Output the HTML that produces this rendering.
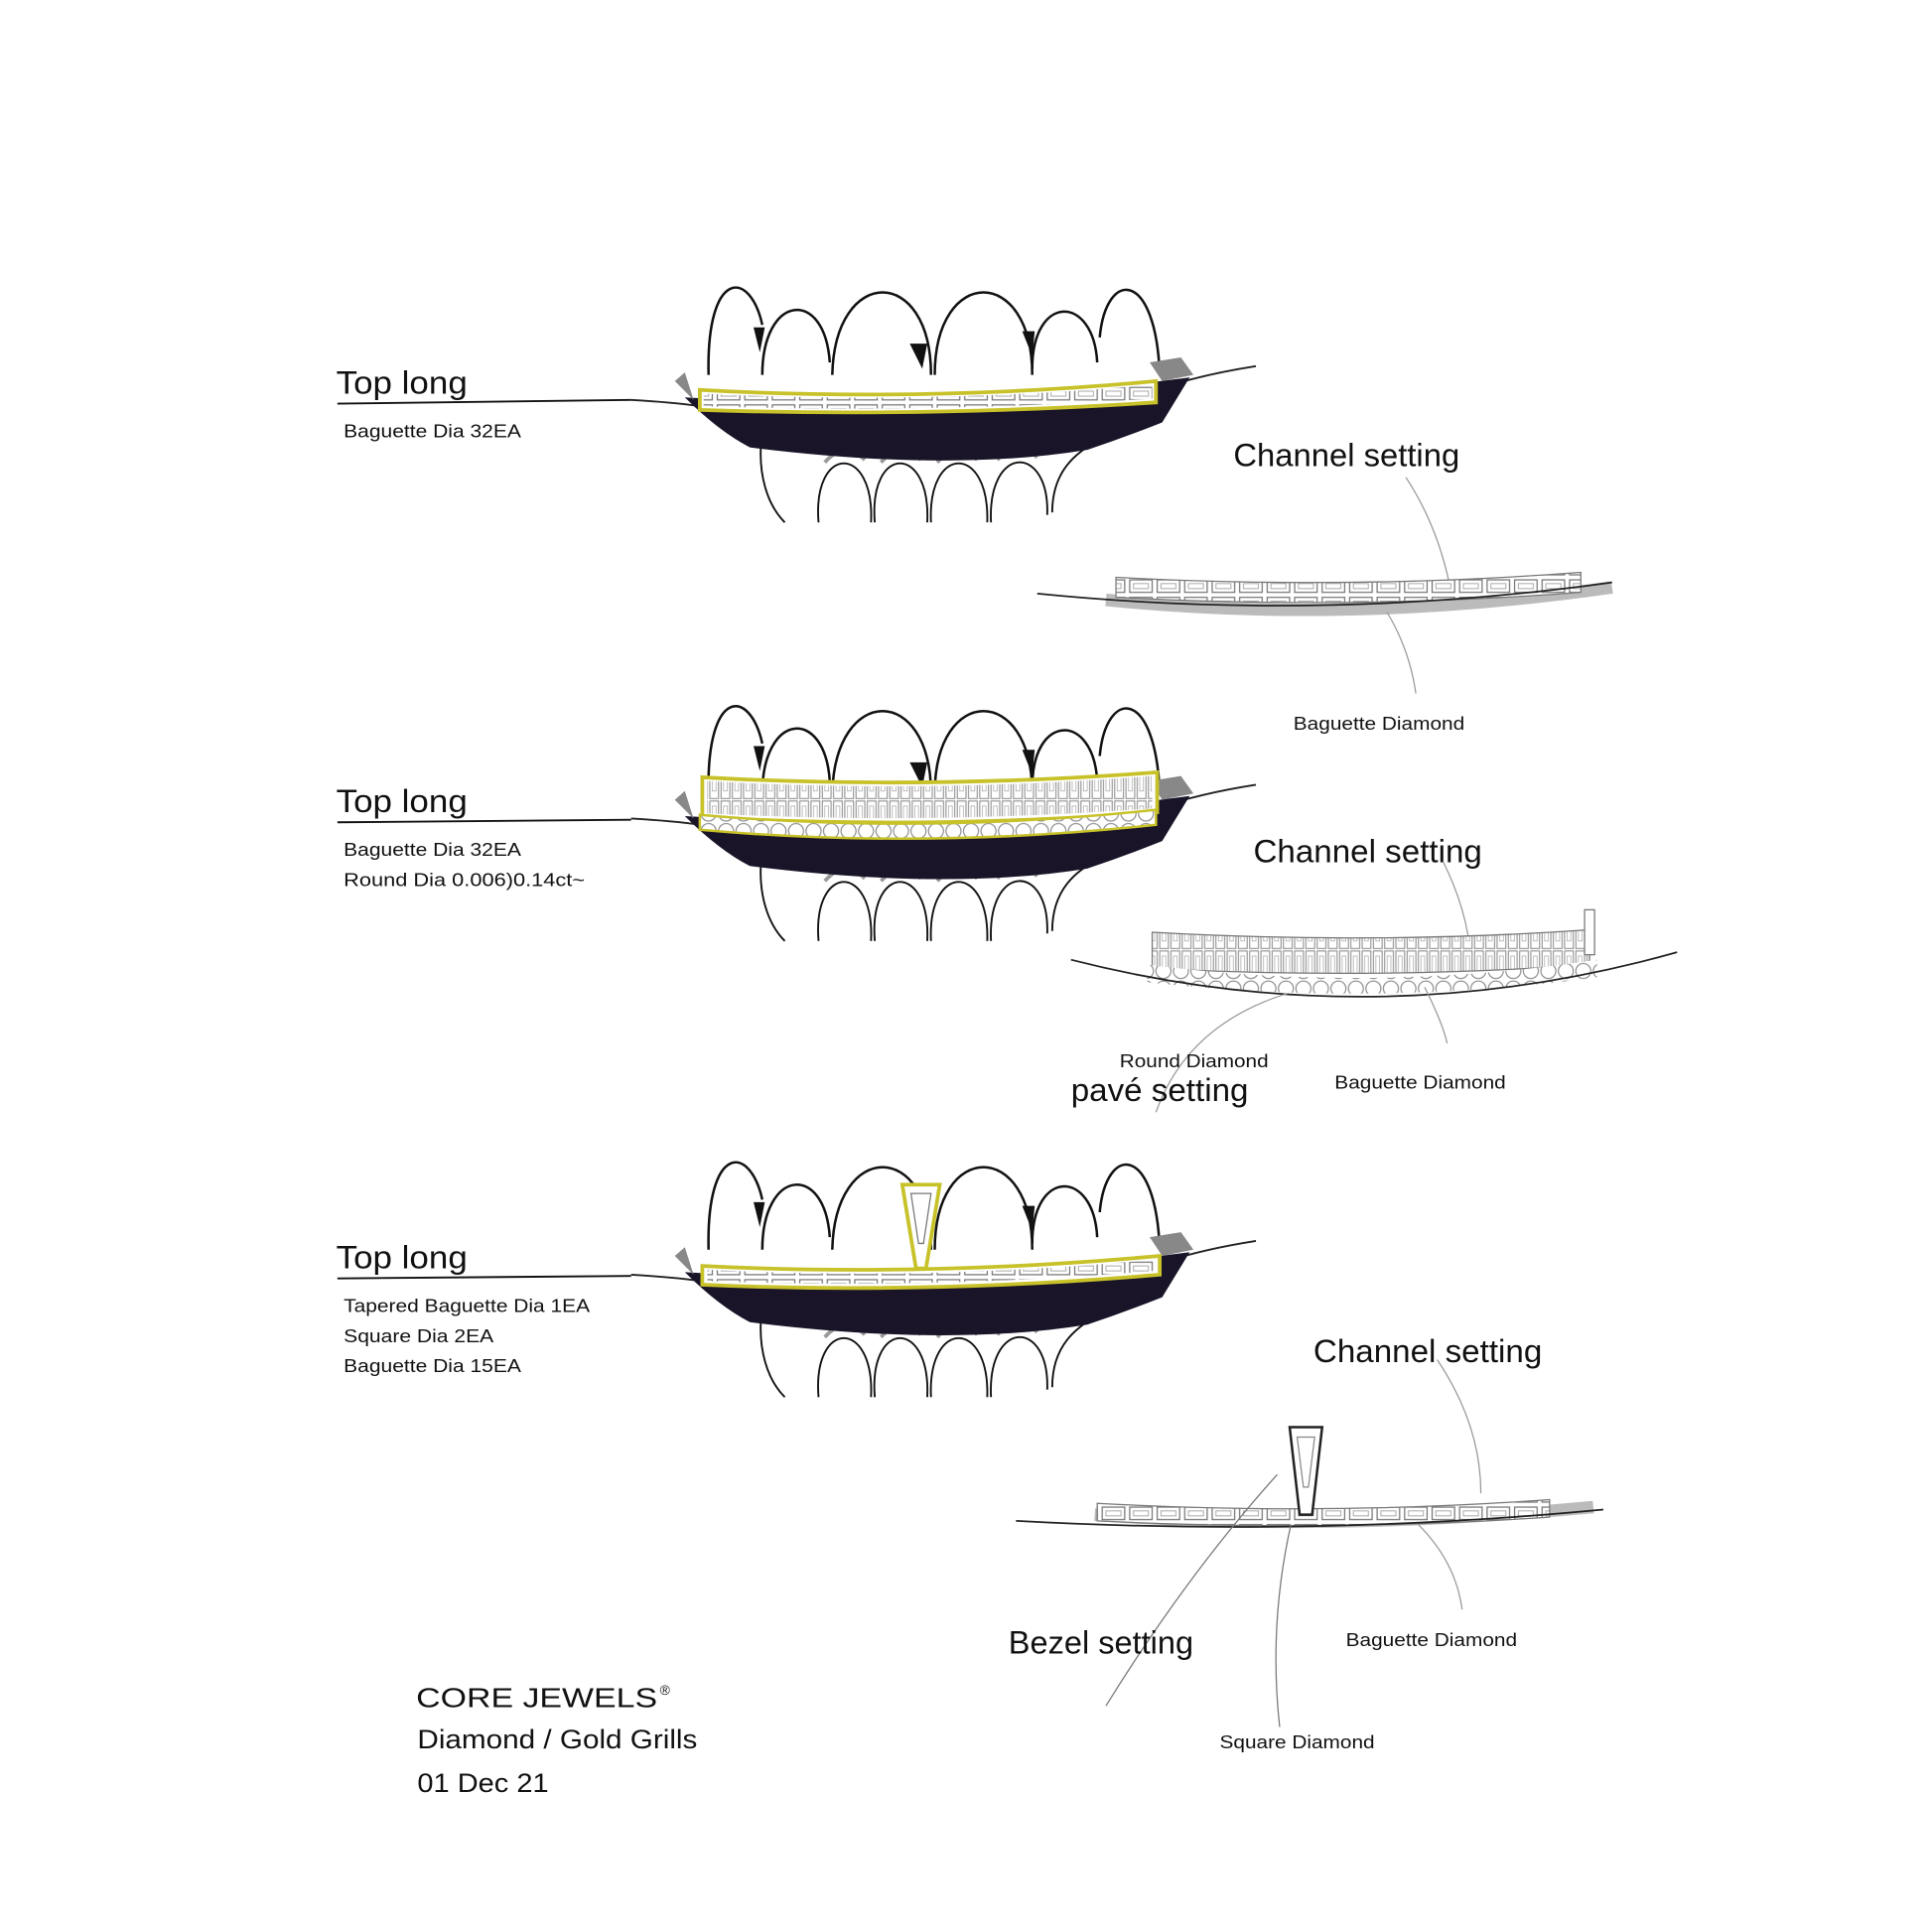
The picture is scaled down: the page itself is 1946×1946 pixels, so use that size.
<!DOCTYPE html>
<html><head><meta charset="utf-8"><style>
html,body{margin:0;padding:0;background:#fff;}
svg{display:block;}
text{font-family:"Liberation Sans",sans-serif;fill:#111;}
</style></head><body>
<svg width="1946" height="1946" viewBox="0 0 1546 1546" xmlns="http://www.w3.org/2000/svg">
<defs>
<pattern id="bag" x="0" y="0" width="22" height="14" patternUnits="userSpaceOnUse">
<rect x="0" y="0" width="22" height="14" fill="#fff"/>
<rect x="2" y="2" width="18" height="10" fill="#fff" stroke="#777" stroke-width="1"/>
<rect x="5" y="5" width="12" height="4" fill="none" stroke="#aaa" stroke-width="0.8"/>
</pattern>
<pattern id="tall" x="0" y="0" width="9" height="40" patternUnits="userSpaceOnUse">
<rect width="9" height="40" fill="#fff"/>
<rect x="1" y="1" width="7" height="38" fill="none" stroke="#888" stroke-width="0.8"/>
<rect x="3" y="5" width="3" height="28" fill="none" stroke="#aaa" stroke-width="0.6"/>
</pattern>
<pattern id="rnd" x="0" y="0" width="14" height="14" patternUnits="userSpaceOnUse">
<rect width="14" height="14" fill="#fff"/>
<circle cx="7" cy="7" r="6" fill="#fff" stroke="#888" stroke-width="0.9"/>
</pattern>
<g id="teeth">
 <path d="M505,320 Q540,322 560,325" stroke="#222" stroke-width="1.5" fill="none"/>
 <path d="M925,312 Q960,300 1005,293" stroke="#222" stroke-width="1.5" fill="none"/>
 <!-- lower teeth -->
 <g fill="none" stroke="#111" stroke-width="1.5">
  <path d="M610,345 C605,380 615,405 628,418"/>
  <path d="M655,418 C650,355 700,355 697,418"/>
  <path d="M700,418 C695,355 745,355 742,418"/>
  <path d="M745,418 C742,355 792,355 790,418"/>
  <path d="M793,418 C790,355 840,355 838,412"/>
  <path d="M842,410 C842,360 885,355 885,345"/>
 </g>
 <g fill="none" stroke="#999" stroke-width="3">
  <path d="M660,370 Q676,352 692,368"/>
  <path d="M705,370 Q721,352 737,368"/>
  <path d="M750,370 Q766,352 782,368"/>
  <path d="M798,368 Q814,350 830,366"/>
 </g>
 <!-- mouth dark -->
 <path d="M548,318 Q740,330 952,302 L930,338 Q900,350 870,360 Q760,378 600,358 Q575,345 548,318 Z" fill="#1a1428"/>
 <!-- upper teeth -->
 <g fill="none" stroke="#111" stroke-width="2">
  <path d="M567,300 C565,215 600,215 610,260"/>
  <path d="M610,300 C610,235 660,230 664,290"/>
  <path d="M666,300 C668,212 745,212 745,300"/>
  <path d="M748,300 C748,212 826,212 826,300"/>
  <path d="M826,295 C826,235 875,235 878,290"/>
  <path d="M880,270 C885,215 925,215 928,300"/>
 </g>
 <g fill="#111">
  <path d="M603,262 L612,262 L608,282 Z"/>
  <path d="M728,275 L742,275 L738,295 Z"/>
  <path d="M818,265 L828,265 L826,285 Z"/>
 </g>
 <g fill="#888">
  <path d="M920,290 L945,286 L955,300 L930,305 Z"/>
  <path d="M540,305 L548,298 L555,320 Z"/>
 </g>
</g>
</defs>

<!-- GROUP 1 -->
<use href="#teeth"/>
<path d="M560,312 Q740,322 925,305 L925,322 Q740,334 560,328 Z" fill="#fff" stroke="#c8c22a" stroke-width="3"/>
<path d="M563,315 Q740,324 922,308 L922,319 Q740,331 563,325 Z" fill="url(#bag)"/>
<text x="269" y="315" font-size="26" textLength="105" lengthAdjust="spacingAndGlyphs">Top long</text>
<line x1="270" y1="323" x2="505" y2="320" stroke="#111" stroke-width="1.5"/>
<text x="275" y="350" font-size="15" textLength="142" lengthAdjust="spacingAndGlyphs">Baguette Dia 32EA</text>

<text x="987" y="373" font-size="26" textLength="181" lengthAdjust="spacingAndGlyphs">Channel setting</text>
<path d="M1125,382 Q1150,420 1160,468" stroke="#999" fill="none"/>
<path d="M885,480 Q1080,500 1290,470" stroke="#bbb" stroke-width="10" fill="none"/>
<path d="M893,462 Q1080,472 1265,458 L1265,474 Q1080,488 893,478 Z" fill="url(#bag)" stroke="#777"/>
<path d="M830,475 Q1060,498 1290,466" stroke="#222" stroke-width="1.4" fill="none"/>
<path d="M1110,490 Q1128,520 1133,555" stroke="#999" fill="none"/>
<text x="1035" y="584" font-size="15" textLength="137" lengthAdjust="spacingAndGlyphs">Baguette Diamond</text>

<!-- GROUP 2 -->
<use href="#teeth" y="335"/>
<path d="M562,622 Q740,632 926,618 L926,650 Q740,664 562,654 Z" fill="#fff" stroke="#c8c22a" stroke-width="3"/>
<path d="M566,625 Q740,635 922,621 L922,647 Q740,660 566,651 Z" fill="url(#tall)"/>
<path d="M560,652 Q740,668 925,648 L925,660 Q740,680 560,664 Z" fill="url(#rnd)" stroke="#c8c22a" stroke-width="2"/>
<text x="269" y="650" font-size="26" textLength="105" lengthAdjust="spacingAndGlyphs">Top long</text>
<line x1="270" y1="658" x2="505" y2="656" stroke="#111" stroke-width="1.5"/>
<text x="275" y="685" font-size="15" textLength="142" lengthAdjust="spacingAndGlyphs">Baguette Dia 32EA</text>
<text x="275" y="709" font-size="15" textLength="193" lengthAdjust="spacingAndGlyphs">Round Dia 0.006)0.14ct~</text>

<text x="1003" y="690" font-size="26" textLength="183" lengthAdjust="spacingAndGlyphs">Channel setting</text>
<path d="M1155,690 Q1170,720 1175,750" stroke="#999" fill="none"/>
<path d="M922,746 Q1100,756 1272,744 L1272,772 Q1100,784 922,775 Z" fill="url(#tall)" stroke="#777"/>
<rect x="1268" y="728" width="8" height="36" fill="#fff" stroke="#777"/>
<path d="M918,772 Q1100,795 1278,768 L1278,782 Q1100,806 918,786 Z" fill="url(#rnd)"/>
<path d="M857,768 Q1100,830 1342,762" stroke="#222" stroke-width="1.4" fill="none"/>
<path d="M1030,795 Q950,820 925,890" stroke="#999" fill="none"/>
<path d="M1140,790 Q1155,820 1158,835" stroke="#999" fill="none"/>
<text x="896" y="854" font-size="15" textLength="119" lengthAdjust="spacingAndGlyphs">Round Diamond</text>
<text x="857" y="881" font-size="26" textLength="142" lengthAdjust="spacingAndGlyphs">pavé setting</text>
<text x="1068" y="871" font-size="15" textLength="137" lengthAdjust="spacingAndGlyphs">Baguette Diamond</text>

<!-- GROUP 3 -->
<use href="#teeth" y="700"/>
<path d="M562,1013 Q740,1022 928,1005 L928,1020 Q740,1036 562,1028 Z" fill="#fff" stroke="#c8c22a" stroke-width="3"/>
<path d="M566,1016 Q740,1025 924,1008 L924,1017 Q740,1032 566,1025 Z" fill="url(#bag)"/>
<path d="M722,948 L752,948 L741,1015 L733,1015 Z" fill="#fff" stroke="#c8c22a" stroke-width="3"/>
<path d="M729,955 L745,955 L739,995 L735,995 Z" fill="none" stroke="#777"/>
<text x="269" y="1015" font-size="26" textLength="105" lengthAdjust="spacingAndGlyphs">Top long</text>
<line x1="270" y1="1023" x2="505" y2="1021" stroke="#111" stroke-width="1.5"/>
<text x="275" y="1050" font-size="15" textLength="197" lengthAdjust="spacingAndGlyphs">Tapered Baguette Dia 1EA</text>
<text x="275" y="1074" font-size="15" textLength="120" lengthAdjust="spacingAndGlyphs">Square Dia 2EA</text>
<text x="275" y="1098" font-size="15" textLength="142" lengthAdjust="spacingAndGlyphs">Baguette Dia 15EA</text>

<text x="1051" y="1090" font-size="26" textLength="183" lengthAdjust="spacingAndGlyphs">Channel setting</text>
<path d="M1150,1088 Q1185,1140 1185,1195" stroke="#999" fill="none"/>
<path d="M876,1212 Q1060,1226 1275,1206" stroke="#bbb" stroke-width="10" fill="none"/>
<path d="M878,1203 Q1060,1213 1240,1200 L1240,1214 Q1060,1226 878,1217 Z" fill="url(#bag)" stroke="#777"/>
<path d="M1032,1142 L1058,1142 L1050,1212 L1040,1212 Z" fill="#fff" stroke="#222" stroke-width="2"/>
<path d="M1038,1150 L1052,1150 L1047,1190 L1043,1190 Z" fill="none" stroke="#888"/>
<path d="M813,1217 Q1050,1230 1283,1208" stroke="#222" stroke-width="1.4" fill="none"/>
<path d="M1022,1180 Q950,1260 885,1365" stroke="#777" fill="none"/>
<path d="M1033,1220 Q1015,1300 1024,1382" stroke="#777" fill="none"/>
<path d="M1135,1220 Q1165,1250 1170,1288" stroke="#999" fill="none"/>
<text x="807" y="1323" font-size="26" textLength="148" lengthAdjust="spacingAndGlyphs">Bezel setting</text>
<text x="1077" y="1317" font-size="15" textLength="137" lengthAdjust="spacingAndGlyphs">Baguette Diamond</text>
<text x="976" y="1399" font-size="15" textLength="124" lengthAdjust="spacingAndGlyphs">Square Diamond</text>

<!-- brand -->
<text x="333" y="1366" font-size="22" textLength="193" lengthAdjust="spacingAndGlyphs">CORE JEWELS</text>
<text x="528" y="1356" font-size="11">®</text>
<text x="334" y="1399" font-size="21" textLength="224" lengthAdjust="spacingAndGlyphs">Diamond / Gold Grills</text>
<text x="334" y="1434" font-size="21" textLength="105" lengthAdjust="spacingAndGlyphs">01 Dec 21</text>
</svg>
</body></html>
